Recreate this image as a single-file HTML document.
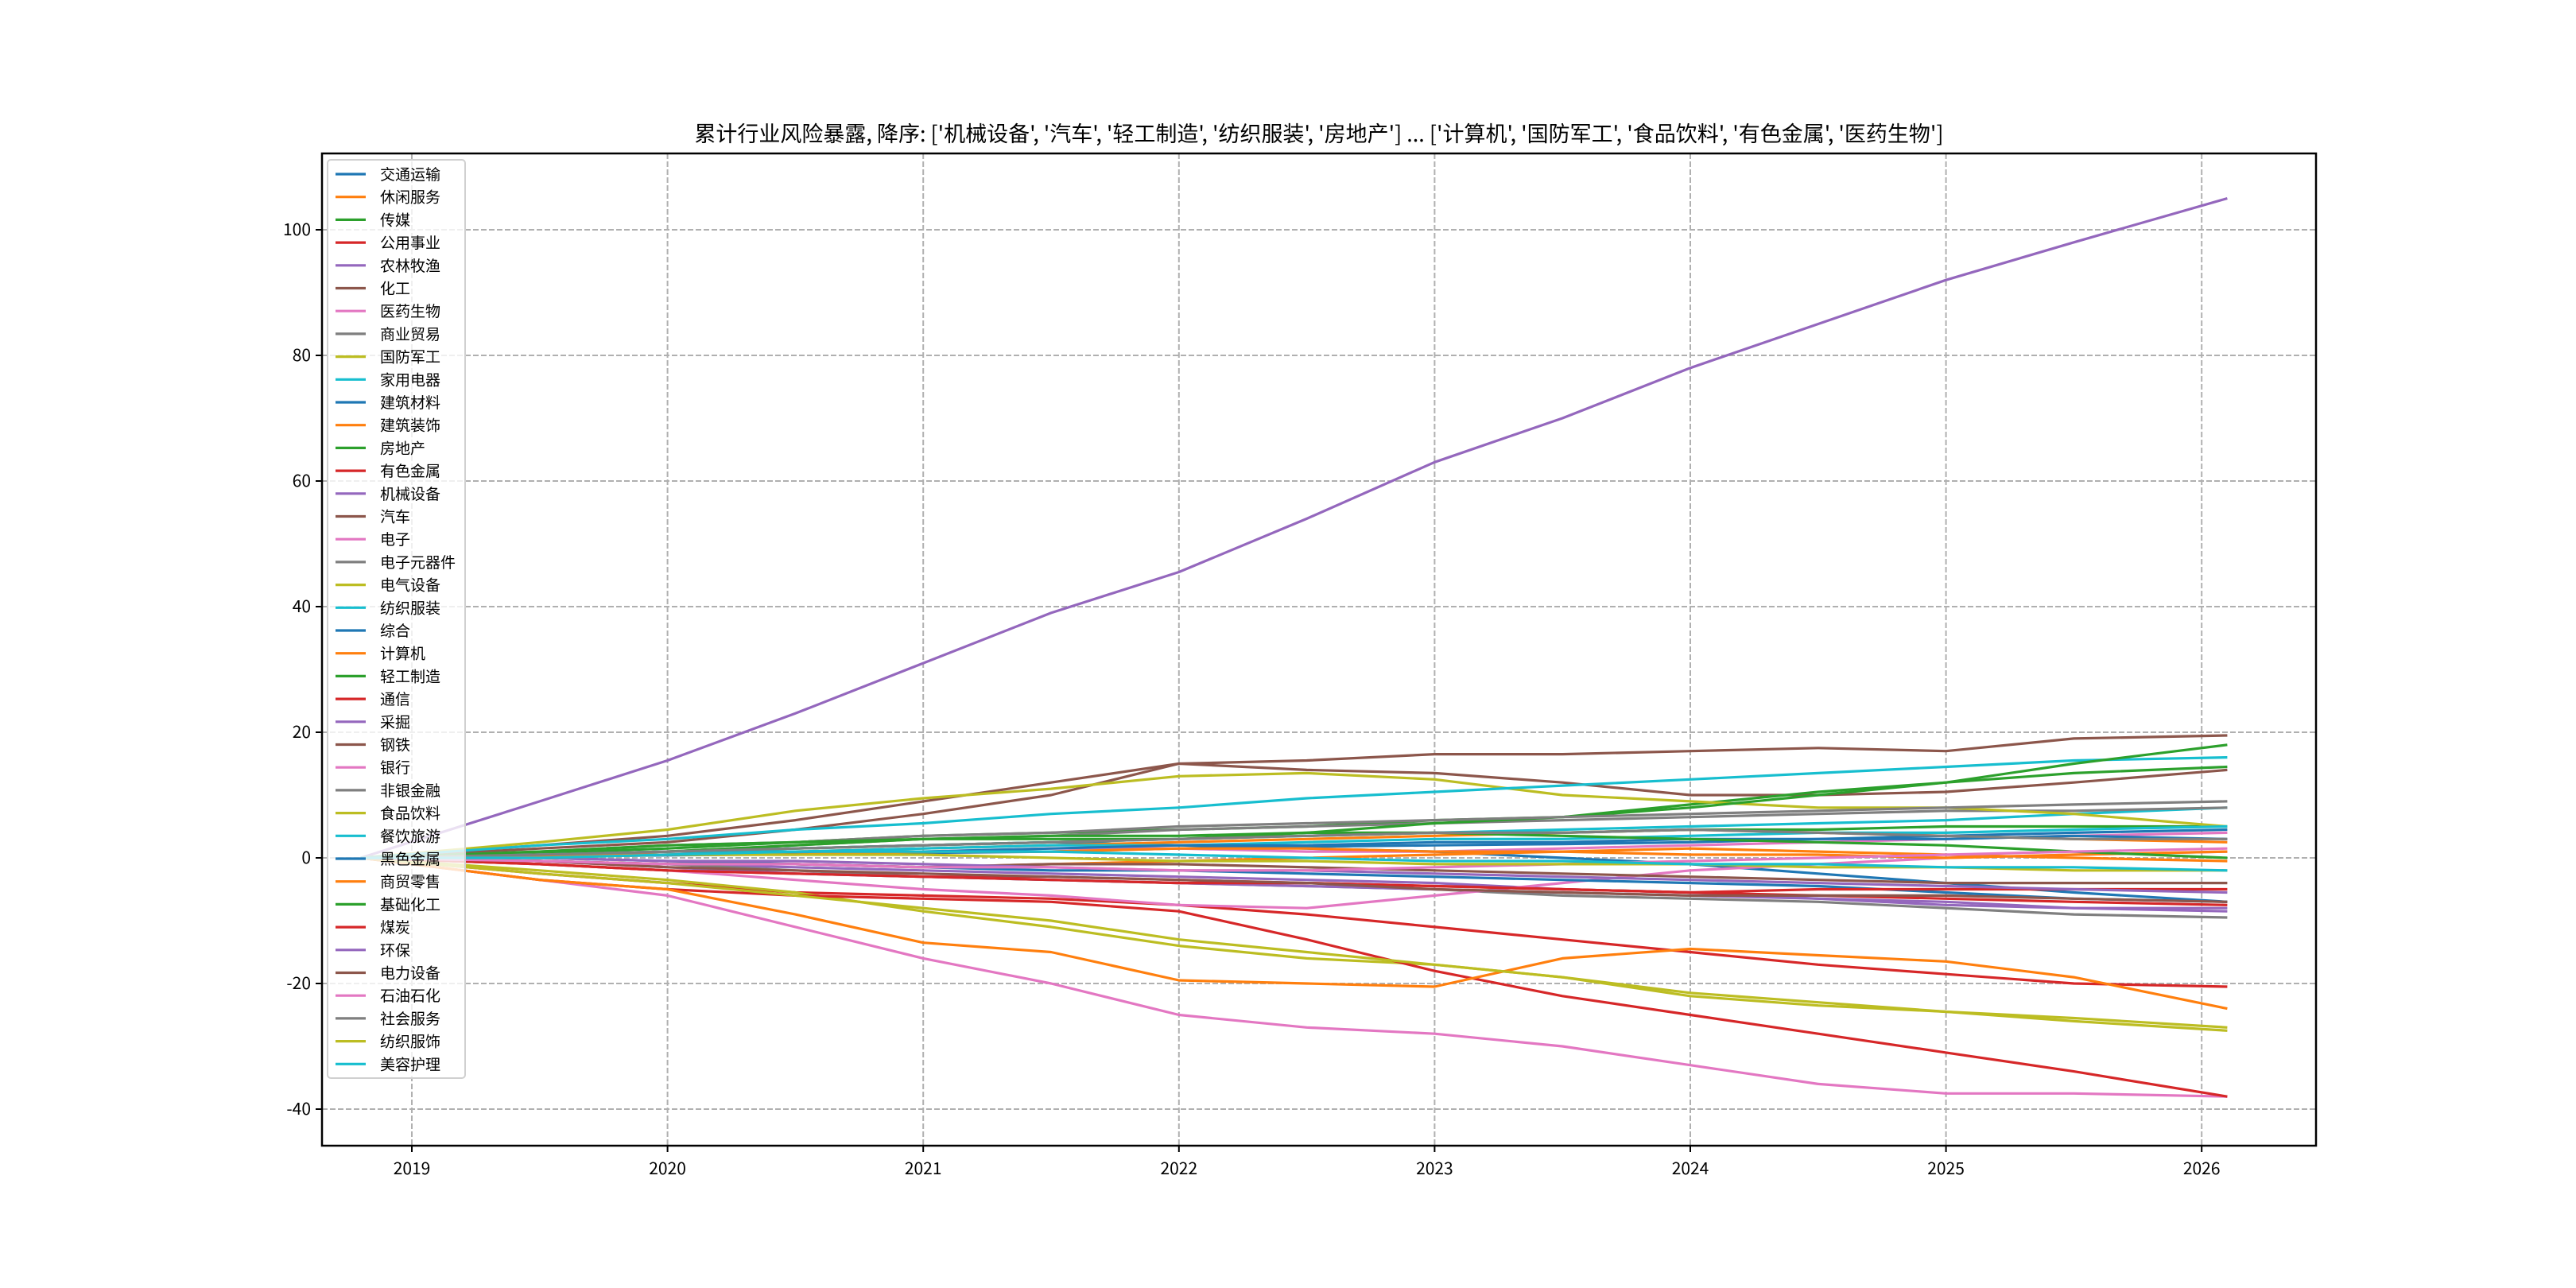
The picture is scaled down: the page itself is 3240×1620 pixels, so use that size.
<!DOCTYPE html>
<html><head><meta charset="utf-8">
<style>
html,body{margin:0;padding:0;background:#fff;}
svg{display:block;font-family:"Noto Sans CJK SC","Liberation Sans",sans-serif;}
</style></head>
<body>
<svg id="chart" width="3240" height="1620" viewBox="0 0 3240 1620"></svg>
<script>
const years = [2018.8,2019.5,2020,2020.5,2021,2021.5,2022,2022.5,2023,2023.5,2024,2024.5,2025,2025.5,2026.1];
const names = ['交通运输','休闲服务','传媒','公用事业','农林牧渔','化工','医药生物','商业贸易','国防军工','家用电器','建筑材料','建筑装饰','房地产','有色金属','机械设备','汽车','电子','电子元器件','电气设备','纺织服装','综合','计算机','轻工制造','通信','采掘','钢铁','银行','非银金融','食品饮料','餐饮旅游','黑色金属','商贸零售','基础化工','煤炭','环保','电力设备','石油石化','社会服务','纺织服饰','美容护理'];
const s00=[0,0.5,1,1.5,2,2.5,2,1.5,1,0,-1,-2.5,-4,-5.5,-7];
const s01=[0,0.3,0.5,1,1.5,2,2.5,3,3.5,4,4.5,4,3.5,3,2.5];
const s02=[0,0.5,1,1.5,2,2.5,3,3.5,4,4,4.5,4.5,5,5,5];
const s03=[0,-2.5,-4,-5.5,-6,-6.5,-7.5,-9,-11,-13,-15,-17,-18.5,-20,-20.5];
const s04=[0,-0.5,-1,-1.5,-2,-2.5,-3,-3.5,-4,-5,-5.5,-6.5,-7,-8,-8.5];
const s05=[0,1.5,2.5,4.5,7,10,15,14,13.5,12,10,10,10.5,12,14];
const s06=[0,-3.5,-6,-11,-16,-20,-25,-27,-28,-30,-33,-36,-37.5,-37.5,-38];
const s07=[0,-0.5,-1,-2,-3,-3.5,-4,-4.5,-5,-6,-6.5,-7,-8,-9,-9.5];
const s08=[0,-2,-3.5,-5.5,-8.5,-11,-14,-16,-17,-19,-21.5,-23,-24.5,-25.5,-27];
const s09=[0,0.5,1,1.5,2,2.5,3,3.5,4,4.5,5,5.5,6,7,8];
const s10=[0,0.2,0.4,0.6,0.8,1,1.5,1.8,2,2.2,2.5,3,3.5,4,4.5];
const s11=[0,-0.5,-1,-1,-1.5,-1,-0.5,0,0.5,1,1.5,1,0.5,0,-0.5];
const s12=[0,0.8,1.5,2.5,3.5,4,4.5,5,6,6.5,8.5,10.5,12,13.5,14.5];
const s13=[0,-3.5,-5,-6,-6.5,-7,-8.5,-13,-18,-22,-25,-28,-31,-34,-38];
const s14=[0,9,15.5,23,31,39,45.5,54,63,70,78,85,92,98,105];
const s15=[0,2,3.5,6,9,12,15,15.5,16.5,16.5,17,17.5,17,19,19.5];
const s16=[0,-1,-2,-3.5,-5,-6,-7.5,-8,-6,-4,-2,-1,0,0.5,1];
const s17=[0,0.5,1,2,3,3.5,4.5,5,5.5,6,6.5,7,7.5,7.5,8];
const s18=[0,2.5,4.5,7.5,9.5,11,13,13.5,12.5,10,9,8,8,7,5];
const s19=[0,2,3,4.5,5.5,7,8,9.5,10.5,11.5,12.5,13.5,14.5,15.5,16];
const s20=[0,0,-0.5,-1,-1.5,-2,-2,-2.5,-3,-3.5,-4,-4.5,-5.5,-6.5,-7];
const s21=[0,-3.5,-5,-9,-13.5,-15,-19.5,-20,-20.5,-16,-14.5,-15.5,-16.5,-19,-24];
const s22=[0,0.5,1,2,3,3,3,4,5.5,6.5,8,10,12,15,18];
const s23=[0,-1,-2,-2.5,-3,-3,-3.5,-4,-4.5,-5,-5.5,-5,-5,-5,-5];
const s24=[0,-0.5,-1.5,-2.5,-3,-3.5,-4,-4.5,-5,-5.5,-6,-6.5,-7.5,-8,-8];
const s25=[0,-0.5,-1,-1,-1.5,-1,-1,-1.5,-2,-2.5,-3,-3.5,-4,-4,-4];
const s26=[0,0.5,0.5,1,1,1.5,1.5,1,1,1.5,2,2.5,3,3.5,4];
const s27=[0,1,2,2.5,3.5,4,5,5.5,6,6.5,7,7.5,8,8.5,9];
const s28=[0,-2.5,-4,-6,-8,-10,-13,-15,-17,-19,-22,-23.5,-24.5,-26,-27.5];
const s29=[0,0.5,1,1,1.5,2,2,2.5,3,3,3.5,4,4,4.5,5];
const s30=[0,0.3,0.5,1,1,1.5,2,2,2.5,2.5,3,3,3,3.5,3];
const s31=[0,0.3,0.5,0.5,1,1,1.5,1.5,1,1,0.5,0.5,0,0.5,1];
const s32=[0,1,2,2.5,3,3.5,3.5,4,4,3.5,3,2.5,2,1,0];
const s33=[0,-1,-2,-2.5,-3,-3.5,-4,-4,-4.5,-5,-5.5,-6,-6.5,-7,-7.5];
const s34=[0,0,-0.5,-0.5,-1,-1.5,-2,-2,-2.5,-3,-3.5,-4,-4.5,-5,-5.5];
const s35=[0,-0.5,-1.5,-2,-2.5,-3,-3.5,-4,-5,-5.5,-6,-6,-6,-6.5,-7];
const s36=[0,-0.5,-1,-1,-1.5,-1.5,-2,-2,-1.5,-1,-0.5,0,0.5,1,1.5];
const s37=[0,0.5,1,1.5,2,2.5,3,3.5,4,4,4.5,4,3.5,3,3];
const s38=[0,0,0.5,0.5,0.5,0,-0.5,-0.5,-1,-1,-1,-1.5,-1.5,-2,-2];
const s39=[0,0,0.5,1,1,1,0.5,0,-0.5,-0.5,-1,-1,-1.5,-1.5,-2];
const series=[s00,s01,s02,s03,s04,s05,s06,s07,s08,s09,s10,s11,s12,s13,s14,s15,s16,s17,s18,s19,s20,s21,s22,s23,s24,s25,s26,s27,s28,s29,s30,s31,s32,s33,s34,s35,s36,s37,s38,s39];
const yTicks=[-40,-20,0,20,40,60,80,100];
const xTicks=[2019,2020,2021,2022,2023,2024,2025,2026];
const colors=['#1f77b4','#ff7f0e','#2ca02c','#d62728','#9467bd','#8c564b','#e377c2','#7f7f7f','#bcbd22','#17becf'];

const L=405,R=2913,T=193,B=1441;
function xs(v){return 518+(v-2019)*321.6;}
function ys(v){return 1079-v*7.9;}
const svg=document.getElementById('chart');
const NS='http://www.w3.org/2000/svg';
function mk(tag,attrs,parent){const e=document.createElementNS(NS,tag);for(const k in attrs)e.setAttribute(k,attrs[k]);(parent||svg).appendChild(e);return e;}

const title=mk('text',{x:1659,y:178,'text-anchor':'middle','font-size':27,fill:'#000'});


title.textContent="累计行业风险暴露, 降序: ['机械设备', '汽车', '轻工制造', '纺织服装', '房地产'] ... ['计算机', '国防军工', '食品饮料', '有色金属', '医药生物']";

const grid=mk('g',{});


xTicks.forEach(t=>{
  const x=xs(t);
  mk('line',{x1:x,x2:x,y1:T,y2:B,stroke:'#b0b0b0','stroke-width':2,'stroke-dasharray':'7,3'},grid);
  mk('line',{x1:x,x2:x,y1:B,y2:B+8,stroke:'#000','stroke-width':2},grid);
  const lb=mk('text',{x:x,y:B+36,'text-anchor':'middle','font-size':21},grid);
  
  
  lb.textContent=t;
});
yTicks.forEach(t=>{
  const y=ys(t);
  mk('line',{x1:L,x2:R,y1:y,y2:y,stroke:'#b0b0b0','stroke-width':2,'stroke-dasharray':'7,3'},grid);
  mk('line',{x1:L-8,x2:L,y1:y,y2:y,stroke:'#000','stroke-width':2},grid);
  const lb=mk('text',{x:L-14,y:y+7,'text-anchor':'end','font-size':21},grid);
  
  
  lb.textContent=t;
});

const lines=mk('g',{});


series.forEach((s,i)=>{
  const d=s.map((v,j)=>(j?'L':'M')+xs(years[j]).toFixed(1)+','+ys(v).toFixed(1)).join(' ');
  const p=mk('path',{d:d,fill:'none',stroke:colors[i%10],'stroke-width':3.2,'stroke-linejoin':'round'},lines);
  
  
});

const frame=mk('rect',{x:L,y:T,width:R-L,height:B-T,fill:'none',stroke:'#000','stroke-width':2.5});



const lg=mk('g',{});


mk('rect',{x:412,y:201,width:173,height:1155,rx:4,fill:'#fff','fill-opacity':0.8,stroke:'#d0d0d0','stroke-width':2},lg);
names.forEach((n,i)=>{
  const y=219+i*28.7;
  const g=mk('g',{},lg);
  
  
  mk('line',{x1:422,x2:460,y1:y,y2:y,stroke:colors[i%10],'stroke-width':3.2},g);
  const t=mk('text',{x:478,y:y+7,'font-size':19},g);
  t.textContent=n;
});
</script>
</body></html>
